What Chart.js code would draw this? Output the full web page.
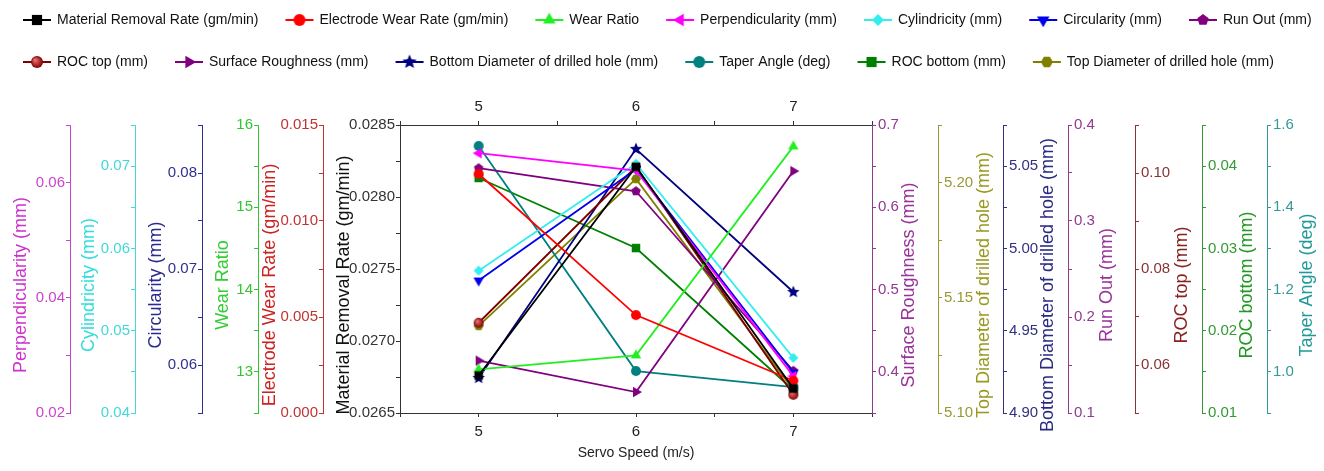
<!DOCTYPE html>
<html>
<head>
<meta charset="utf-8">
<script src="https://cdn.jsdelivr.net/npm/chart.js@4.4.1/dist/chart.umd.min.js"></script>
<style>
  html, body { margin: 0; padding: 0; background: #fff; overflow: hidden; }
</style>
</head>
<body>
<canvas id="canvas" width="1324" height="471"></canvas>
<script>
// x values (servo speed)
const servoSpeed = [5, 6, 7];

// series values
const materialRemovalRate = [0.02676, 0.02821, 0.02667];
const electrodeWearRate = [0.01245, 0.0051, 0.00168];
const wearRatio = [13.03, 13.2, 15.74];
const perpendicularity = [0.0651, 0.0621, 0.0264];
const cylindricity = [0.0573, 0.0703, 0.0467];
const circularity = [0.0688, 0.0804, 0.0592];
const runOut = [0.355, 0.331, 0.144];
const rocTop = [0.0688, 0.1013, 0.0538];
const surfaceRoughness = [0.4136, 0.3755, 0.644];
const bottomDiameter = [4.9213, 5.0604, 4.9735];
const taperAngle = [1.549, 1.002, 0.963];
const rocBottom = [0.03856, 0.03005, 0.0128];
const topDiameter = [5.1378, 5.2016, 5.110];

// tick labels
const xTicks = ["5", "6", "7"];
const perpTicks = ["0.02", "0.04", "0.06"];
const cylTicks = ["0.04", "0.05", "0.06", "0.07"];
const circTicks = ["0.06", "0.07", "0.08"];
const wearTicks = ["13", "14", "15", "16"];
const ewrTicks = ["0.000", "0.005", "0.010", "0.015"];
const mrrTicks = ["0.0265", "0.0270", "0.0275", "0.0280", "0.0285"];
const srTicks = ["0.4", "0.5", "0.6", "0.7"];
const topDiaTicks = ["5.10", "5.15", "5.20"];
const bottomDiaTicks = ["4.90", "4.95", "5.00", "5.05"];
const runOutTicks = ["0.1", "0.2", "0.3", "0.4"];
const rocTopTicks = ["0.06", "0.08", "0.10"];
const rocBottomTicks = ["0.01", "0.02", "0.03", "0.04"];
const taperTicks = ["1.0", "1.2", "1.4", "1.6"];

const FAMILY = '"Liberation Sans", Arial, sans-serif';
const TITLE_FONT = '18px "Liberation Sans", Arial, sans-serif';
const TITLE_Y = 285;

Chart.defaults.font.family = FAMILY;
Chart.defaults.font.size = 15;
Chart.defaults.color = "#222";

// axes: left ones listed outer -> inner, right ones inner -> outer
const axisDefs = [
  { id: "yPerp", side: "left", weight: 6, width: 74, min: 0.02, max: 0.07, step: 0.01, labels: perpTicks, color: "#cc44cc", title: "Perpendicularity (mm)", titleColor: "#cc33cc", dx: 25.5 },
  { id: "yCyl", side: "left", weight: 5, width: 65, min: 0.04, max: 0.075, step: 0.005, labels: cylTicks, color: "#44d8d8", title: "Cylindricity (mm)", titleColor: "#33dddd", dx: 19 },
  { id: "yCirc", side: "left", weight: 4, width: 67, min: 0.055, max: 0.085, step: 0.005, labels: circTicks, color: "#303090", title: "Circularity (mm)", titleColor: "#2a2a90", dx: 21 },
  { id: "yWear", side: "left", weight: 3, width: 56, min: 12.5, max: 16, step: 0.5, labels: wearTicks, color: "#33c433", title: "Wear Ratio", titleColor: "#33cc33", dx: 21 },
  { id: "yEwr", side: "left", weight: 2, width: 65, min: 0, max: 0.015, step: 0.0025, labels: ewrTicks, color: "#c03333", title: "Electrode Wear Rate (gm/min)", titleColor: "#cc2222", dx: 12 },
  { id: "yMrr", side: "left", weight: 1, width: 77, min: 0.0265, max: 0.0285, step: 0.00025, labels: mrrTicks, color: "#333333", title: "Material Removal Rate (gm/min)", titleColor: "#111111", dx: 21 },
  { id: "ySr", side: "right", weight: 1, width: 66, min: 0.35, max: 0.7, step: 0.05, labels: srTicks, color: "#903a90", title: "Surface Roughness (mm)", titleColor: "#993399", dx: 37 },
  { id: "yTopDia", side: "right", weight: 2, width: 65, min: 5.1, max: 5.225, step: 0.025, labels: topDiaTicks, color: "#999933", title: "Top Diameter of drilled hole (mm)", titleColor: "#999922", dx: 46 },
  { id: "yBotDia", side: "right", weight: 3, width: 65, min: 4.9, max: 5.075, step: 0.025, labels: bottomDiaTicks, color: "#303080", title: "Bottom Diameter of drilled hole (mm)", titleColor: "#2a2a80", dx: 45 },
  { id: "yRunOut", side: "right", weight: 4, width: 67, min: 0.1, max: 0.4, step: 0.05, labels: runOutTicks, color: "#903a90", title: "Run Out (mm)", titleColor: "#993399", dx: 39 },
  { id: "yRocTop", side: "right", weight: 5, width: 67, min: 0.05, max: 0.11, step: 0.01, labels: rocTopTicks, color: "#883333", title: "ROC top (mm)", titleColor: "#882222", dx: 47 },
  { id: "yRocBot", side: "right", weight: 6, width: 65, min: 0.01, max: 0.045, step: 0.005, labels: rocBottomTicks, color: "#339933", title: "ROC bottom (mm)", titleColor: "#229922", dx: 45 },
  { id: "yTaper", side: "right", weight: 7, width: 77, min: 0.9, max: 1.6, step: 0.1, labels: taperTicks, color: "#339999", title: "Taper Angle (deg)", titleColor: "#229999", dx: 40 },
];

const series = [
  { label: "Material Removal Rate (gm/min)", data: materialRemovalRate, axis: "yMrr", color: "#000000", shape: "square" },
  { label: "Electrode Wear Rate (gm/min)", data: electrodeWearRate, axis: "yEwr", color: "#ff0000", shape: "circle" },
  { label: "Wear Ratio", data: wearRatio, axis: "yWear", color: "#22ee22", shape: "up" },
  { label: "Perpendicularity (mm)", data: perpendicularity, axis: "yPerp", color: "#ff00ff", shape: "left" },
  { label: "Cylindricity (mm)", data: cylindricity, axis: "yCyl", color: "#33eeee", shape: "diamond" },
  { label: "Circularity (mm)", data: circularity, axis: "yCirc", color: "#0000ee", shape: "down" },
  { label: "Run Out (mm)", data: runOut, axis: "yRunOut", color: "#800080", shape: "pentagon" },
  { label: "ROC top (mm)", data: rocTop, axis: "yRocTop", color: "#800000", shape: "sphere" },
  { label: "Surface Roughness (mm)", data: surfaceRoughness, axis: "ySr", color: "#800080", shape: "right" },
  { label: "Bottom Diameter of drilled hole (mm)", data: bottomDiameter, axis: "yBotDia", color: "#000080", shape: "star" },
  { label: "Taper Angle (deg)", data: taperAngle, axis: "yTaper", color: "#008080", shape: "circle" },
  { label: "ROC bottom (mm)", data: rocBottom, axis: "yRocBot", color: "#008000", shape: "square" },
  { label: "Top Diameter of drilled hole (mm)", data: topDiameter, axis: "yTopDia", color: "#808000", shape: "hexagon" },
];

function markerPath(ctx, shape, cx, cy, r) {
  ctx.beginPath();
  if (shape === "circle" || shape === "sphere") {
    ctx.arc(cx, cy, r, 0, Math.PI * 2);
    return;
  }
  if (shape === "square") {
    const h = r * 0.85;
    ctx.rect(cx - h, cy - h, 2 * h, 2 * h);
    return;
  }
  let n = 3, start = -90, inner = 0;
  if (shape === "down") start = 90;
  if (shape === "left") start = 180;
  if (shape === "right") start = 0;
  if (shape === "diamond") n = 4;
  if (shape === "pentagon") n = 5;
  if (shape === "hexagon") { n = 6; start = 0; }
  if (shape === "star") { n = 5; inner = 0.45; }
  const steps = inner ? n * 2 : n;
  const rr0 = n === 3 ? r * 1.2 : r;
  for (let k = 0; k < steps; k++) {
    const a = (start + (k * 360) / steps) * Math.PI / 180;
    const rr = inner && k % 2 ? rr0 * inner : rr0;
    const px = cx + rr * Math.cos(a), py = cy + rr * Math.sin(a);
    if (k) ctx.lineTo(px, py); else ctx.moveTo(px, py);
  }
  ctx.closePath();
}

function paintMarker(ctx, shape, cx, cy, r, color) {
  markerPath(ctx, shape, cx, cy, r);
  if (shape === "sphere") {
    const g = ctx.createRadialGradient(cx - r * 0.35, cy - r * 0.35, r * 0.1, cx, cy, r);
    g.addColorStop(0, "#e87070");
    g.addColorStop(1, color);
    ctx.fillStyle = g;
  } else {
    ctx.fillStyle = color;
  }
  ctx.fill();
}

function pointIcon(s) {
  const c = document.createElement("canvas");
  c.width = 16; c.height = 16;
  paintMarker(c.getContext("2d"), s.shape, 8, 8, s.shape === "star" ? 6.5 : 5, s.color);
  return c;
}

function legendIcon(s) {
  const c = document.createElement("canvas");
  c.width = 30; c.height = 16;
  const ctx = c.getContext("2d");
  ctx.strokeStyle = s.color;
  ctx.lineWidth = 2;
  ctx.beginPath();
  ctx.moveTo(1, 8);
  ctx.lineTo(29, 8);
  ctx.stroke();
  paintMarker(ctx, s.shape, 15, 8, s.shape === "star" ? 7.5 : 6, s.color);
  return c;
}

const legendIcons = series.map(legendIcon);

function yAxis(d) {
  return {
    type: "linear",
    position: d.side,
    weight: d.weight,
    min: d.min,
    max: d.max,
    afterFit: (scale) => { scale.width = d.width; },
    grid: { drawOnChartArea: false, drawTicks: true, tickLength: 4, tickColor: d.color, color: d.color },
    border: { display: true, color: d.color, width: 1 },
    ticks: {
      stepSize: d.step,
      autoSkip: false,
      padding: d.side === "left" ? 1 : 2,
      color: d.color,
      font: { size: 15 },
      callback: (v) => {
        const t = d.labels.find((l) => Math.abs(parseFloat(l) - v) < d.step / 10);
        return t === undefined ? "" : t;
      },
    },
    title: { display: false },
  };
}

function xAxis(pos, height) {
  return {
    type: "linear",
    position: pos,
    min: 4.5,
    max: 7.5,
    afterFit: (scale) => { scale.height = height; },
    grid: { drawOnChartArea: false, drawTicks: true, tickLength: 4, tickColor: "#333", color: "#333" },
    border: { display: true, color: "#333", width: 1 },
    ticks: {
      stepSize: 0.5,
      autoSkip: false,
      maxRotation: 0,
      padding: pos === "bottom" ? 6 : 5,
      color: "#222",
      font: { size: 15 },
      callback: (v) => {
        const t = xTicks.find((l) => Math.abs(parseFloat(l) - v) < 0.01);
        return t === undefined ? "" : t;
      },
    },
    title: pos === "bottom"
      ? { display: true, text: "Servo Speed (m/s)", color: "#222", font: { size: 14 }, padding: { top: 0, bottom: 9 } }
      : { display: false },
  };
}

const scales = { x: xAxis("bottom", 58), x2: xAxis("top", 46) };
axisDefs.forEach((d) => { scales[d.id] = yAxis(d); });

const datasets = series.map((s) => ({
  label: s.label,
  data: servoSpeed.map((x, i) => ({ x: x, y: s.data[i] })),
  xAxisID: "x",
  yAxisID: s.axis,
  borderColor: s.color,
  backgroundColor: s.color,
  borderWidth: 1.8,
  pointStyle: pointIcon(s),
  pointRadius: 6,
  tension: 0,
  fill: false,
}));

// rotated axis titles (all read bottom to top, like the original)
const axisTitlePlugin = {
  id: "axisTitles",
  afterDraw(chart) {
    const ctx = chart.ctx;
    axisDefs.forEach((d) => {
      const s = chart.scales[d.id];
      ctx.save();
      ctx.translate(s.left + d.dx, TITLE_Y);
      ctx.rotate(-Math.PI / 2);
      ctx.font = TITLE_FONT;
      ctx.fillStyle = d.titleColor;
      ctx.textAlign = "center";
      ctx.textBaseline = "middle";
      ctx.fillText(d.title, 0, 0);
      ctx.restore();
    });
  },
};

const ctx = document.getElementById("canvas").getContext("2d");
const myChart = new Chart(ctx, {
  type: "line",
  data: { datasets: datasets },
  options: {
    responsive: false,
    animation: false,
    devicePixelRatio: 1,
    layout: { padding: { top: -15, left: -4, right: -20, bottom: 0 } },
    plugins: {
      tooltip: { enabled: false },
      legend: {
        position: "top",
        align: "start",
        labels: {
          usePointStyle: true,
          pointStyleWidth: 26,
          padding: 28,
          color: "#111",
          font: { size: 14 },
          generateLabels: (chart) => {
            const items = Chart.defaults.plugins.legend.labels.generateLabels(chart);
            items.forEach((it, i) => { it.pointStyle = legendIcons[i]; it.rotation = 0; });
            return items;
          },
        },
      },
    },
    scales: scales,
  },
  plugins: [axisTitlePlugin],
});
</script>
</body>
</html>
